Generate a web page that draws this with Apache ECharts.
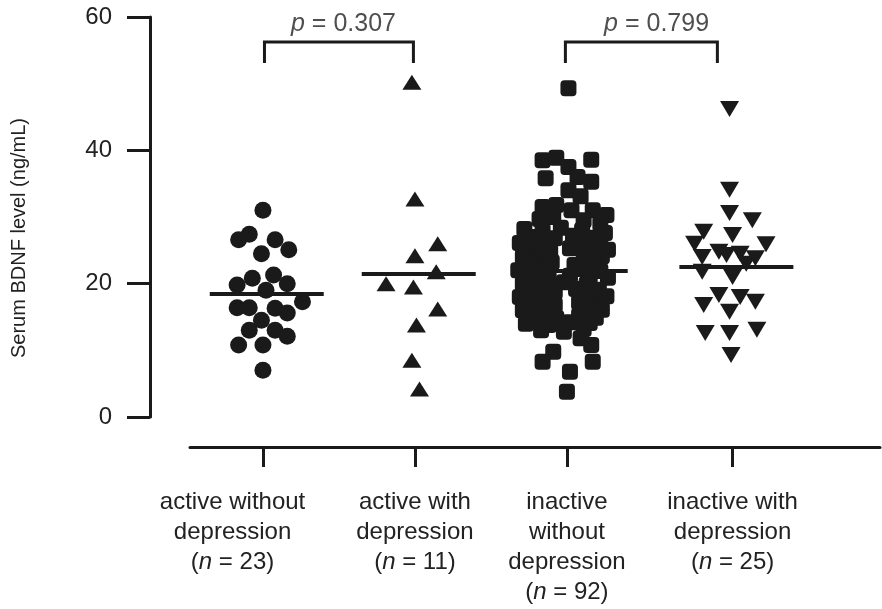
<!DOCTYPE html>
<html>
<head>
<meta charset="utf-8">
<script src="https://cdn.jsdelivr.net/npm/echarts@6/dist/echarts.min.js"></script>
<style>
  body { margin: 0; background: #fff; }
  #chart { width: 882px; height: 609px; }
</style>
</head>
<body>
<div id="chart"></div>
<script>
// groups on the x axis (4th group sits a little further right in the figure)
const groupLabels = ['active without\ndepression', 'active with\ndepression', 'inactive\nwithout\ndepression', 'inactive with\ndepression']
const groupN = [23, 11, 92, 25]
const groupPos = [1, 2, 3, 4.09]
// first label is set a bit left of its tick in the original
const labelPos = [0.8, 2, 3, 4.09]
const yTicks = [0, 20, 40, 60]

// horizontal mean bars
const means = [18.45, 21.45, 21.9, 22.5]

// p-value brackets
const pValues = ['0.307', '0.799']
const bracketFrom = [1.01, 2.99]
const bracketTo = [1.99, 3.99]
const pLabelX = [1.53, 3.59]

// active without depression (circles)
const g1Values = [31.0, 26.6, 27.4, 26.6, 25.1, 24.5, 19.8, 20.8, 21.3, 20.0, 19.0, 17.3, 16.4, 16.4, 16.3, 15.6, 14.5, 13.0, 13.0, 12.1, 10.8, 10.8, 7.0]
const g1Jitter = [0, -0.16, -0.09, 0.08, 0.17, -0.01, -0.17, -0.07, 0.07, 0.16, 0.02, 0.26, -0.17, -0.09, 0.08, 0.16, -0.01, -0.09, 0.08, 0.16, -0.16, 0, 0]

// active with depression (triangles)
const g2Values = [50.2, 32.7, 26.0, 24.2, 21.8, 20.0, 19.5, 16.2, 13.8, 8.5, 4.2]
const g2Jitter = [-0.02, 0, 0.15, 0, 0.14, -0.19, -0.01, 0.15, 0.01, -0.02, 0.03]

// inactive without depression (squares)
const g3Values = [
  49.3, 38.5, 38.9, 38.6, 37.5, 35.8, 36.0, 35.3, 34.0, 33.1, 31.5, 31.8, 31.0, 31.0, 30.3, 29.7, 29.5, 29.0, 30.0,
  28.2, 27.9, 28.4, 28.0, 27.6,
  27.0, 26.8, 27.2, 26.9,
  26.1, 25.8, 26.3, 25.9,
  25.0, 24.8, 25.3, 24.9, 25.1,
  24.0, 23.8, 24.2, 24.1,
  23.0, 23.2, 22.8, 23.1,
  22.0, 21.8, 22.2, 21.9,
  21.0, 20.8, 21.2, 21.1, 20.9,
  20.0, 19.8, 20.2, 19.9,
  19.0, 18.8, 19.2, 19.1,
  18.0, 17.8, 18.2, 18.1,
  17.0, 16.8, 17.2, 16.9,
  16.0, 15.8, 16.2, 16.1,
  15.0, 14.8, 15.2, 14.9,
  14.0, 13.8, 14.2, 14.1,
  13.0, 12.8, 13.2,
  11.8, 10.8, 9.8, 8.3, 8.3, 6.8, 3.8
]
const g3Jitter = [
  0.01, -0.16, -0.07, 0.16, 0.01, -0.14, 0.07, 0.16, 0.01, 0.09, -0.16, -0.07, 0.03, 0.17, 0.26, -0.18, 0.11, 0.22, -0.09,
  -0.28, -0.16, -0.04, 0.10, 0.25,
  -0.23, -0.08, 0.04, 0.17,
  -0.31, -0.17, 0.09, 0.22,
  -0.25, -0.11, 0.02, 0.15, 0.27,
  -0.29, -0.16, 0.11, 0.23,
  -0.23, -0.10, 0.05, 0.18,
  -0.32, -0.19, 0.09, 0.22,
  -0.25, -0.12, 0.02, 0.15, 0.27,
  -0.29, -0.16, -0.02, 0.13,
  -0.23, -0.08, 0.06, 0.21,
  -0.31, -0.15, 0.14, 0.26,
  -0.23, -0.08, 0.08, 0.19,
  -0.29, -0.16, 0.13, 0.23,
  -0.21, -0.07, 0.08, 0.19,
  -0.27, -0.12, 0.02, 0.15,
  -0.17, -0.02, 0.11,
  0.09, 0.16, -0.09, -0.16, 0.17, 0.02, 0
]

// inactive with depression (inverted triangles)
const g4Values = [46.2, 34.1, 30.6, 29.5, 27.8, 27.3, 26.0, 25.9, 24.0, 24.8, 24.3, 24.5, 23.8, 21.8, 21.0, 18.3, 18.0, 16.8, 15.8, 17.3, 12.6, 12.6, 13.1, 9.3, 23.0]
const g4Jitter = [-0.02, -0.02, -0.02, 0.13, -0.19, 0, -0.25, 0.22, -0.2, -0.09, -0.04, 0.05, 0.15, -0.2, 0, -0.09, 0.05, -0.19, -0.02, 0.15, -0.18, -0.02, 0.16, -0.01, 0.09]

const ink = '#1a1a1a'
const font = '"Liberation Sans", Arial, sans-serif'

function points(gi, values, jitter) {
  return values.map((v, i) => [groupPos[gi] + jitter[i], v])
}

function groupLabel(value) {
  let idx = 0
  labelPos.forEach((p, i) => { if (Math.abs(p - value) < Math.abs(labelPos[idx] - value)) idx = i })
  const lines = groupLabels[idx].split('\n').map(s => '{t|' + s + '}')
  lines.push('{t|(}{i|n}{t| = ' + groupN[idx] + ')}')
  return lines.join('\n')
}

const chart = echarts.init(document.getElementById('chart'))

const option = {
  animation: false,
  textStyle: { fontFamily: font },
  grid: { left: 190, right: 2, top: 17, bottom: 192 },
  xAxis: {
    type: 'value',
    min: 0.52,
    max: 5.06,
    offset: 30,
    splitLine: { show: false },
    axisLine: { show: true, onZero: false, lineStyle: { color: ink, width: 3 } },
    axisTick: { show: true, customValues: groupPos, length: 20, lineStyle: { color: ink, width: 3 } },
    axisLabel: {
      customValues: labelPos,
      margin: 40,
      formatter: groupLabel,
      rich: {
        t: { fontSize: 24, lineHeight: 30, color: '#222', fontFamily: font },
        i: { fontSize: 24, lineHeight: 30, color: '#222', fontStyle: 'italic', fontFamily: font }
      }
    }
  },
  yAxis: {
    type: 'value',
    min: yTicks[0],
    max: yTicks[yTicks.length - 1],
    interval: 20,
    offset: 40,
    splitLine: { show: false },
    axisLine: { show: true, onZero: false, lineStyle: { color: ink, width: 3 } },
    axisTick: { show: true, length: 23, lineStyle: { color: ink, width: 3 } },
    axisLabel: { margin: 38, fontSize: 24, color: '#222', fontFamily: font, padding: [10, 0, 0, 0] }
  },
  graphic: [{
    type: 'text',
    x: 19,
    y: 238,
    rotation: Math.PI / 2,
    style: {
      text: 'Serum BDNF level (ng/mL)',
      fontSize: 20,
      fontFamily: font,
      fill: '#222',
      align: 'center',
      verticalAlign: 'middle'
    }
  }],
  series: [
    {
      type: 'scatter',
      symbol: 'circle',
      symbolSize: 17,
      itemStyle: { color: ink, opacity: 1 },
      data: points(0, g1Values, g1Jitter)
    },
    {
      type: 'scatter',
      symbol: 'triangle',
      symbolSize: [19, 15],
      itemStyle: { color: ink, opacity: 1 },
      data: points(1, g2Values, g2Jitter)
    },
    {
      type: 'scatter',
      symbol: 'roundRect',
      symbolSize: 16,
      itemStyle: { color: ink, opacity: 1 },
      data: points(2, g3Values, g3Jitter)
    },
    {
      type: 'scatter',
      symbol: 'triangle',
      symbolRotate: 180,
      symbolSize: [19, 16],
      itemStyle: { color: ink, opacity: 1 },
      data: points(3, g4Values, g4Jitter)
    },
    {
      // mean bars
      type: 'custom',
      z: 10,
      silent: true,
      data: means.map((m, i) => [groupPos[i], m]),
      renderItem: function (params, api) {
        const x = api.value(0)
        const y = api.value(1)
        const a = api.coord([x - 0.35, y])
        const b = api.coord([x + 0.4, y])
        return {
          type: 'line',
          shape: { x1: a[0], y1: a[1], x2: b[0], y2: b[1] },
          style: { stroke: ink, lineWidth: 4 }
        }
      }
    },
    {
      // brackets
      type: 'custom',
      silent: true,
      data: bracketFrom.map((x, i) => [x, bracketTo[i]]),
      renderItem: function (params, api) {
        const x1 = api.value(0)
        const x2 = api.value(1)
        const pts = [[x1, 53.1], [x1, 56.25], [x2, 56.25], [x2, 53.1]].map(p => api.coord(p))
        return {
          type: 'polyline',
          shape: { points: pts },
          style: { stroke: ink, lineWidth: 3, fill: null }
        }
      }
    },
    {
      // p-value labels
      type: 'scatter',
      symbolSize: 1,
      silent: true,
      itemStyle: { color: 'rgba(0,0,0,0)' },
      data: pLabelX.map((x, i) => ({ value: [x, 58.9], name: pValues[i] })),
      label: {
        show: true,
        position: 'inside',
        formatter: p => '{i|p}{t| = ' + p.name + '}',
        rich: {
          t: { fontSize: 25, color: '#222', fontFamily: font },
          i: { fontSize: 25, color: '#222', fontStyle: 'italic', fontFamily: font }
        }
      }
    }
  ]
}

chart.setOption(option)
</script>
</body>
</html>
